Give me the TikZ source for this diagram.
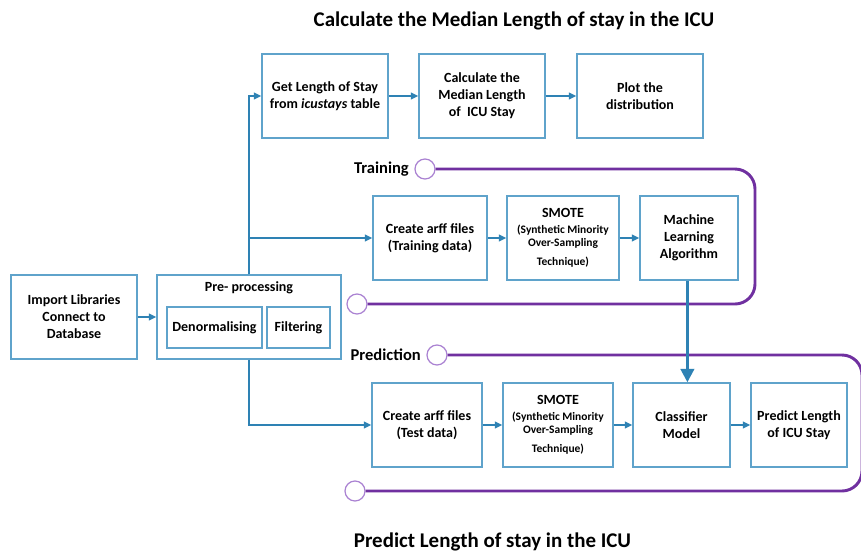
\documentclass[tikz,border=0pt]{standalone}
\usepackage{fontspec}
\setmainfont{Carlito}
\usetikzlibrary{arrows.meta}
\definecolor{boxc}{RGB}{95,163,203}
\definecolor{linec}{RGB}{46,130,180}
\definecolor{purp}{RGB}{112,48,160}
\definecolor{lpurp}{RGB}{170,130,210}
\newcommand\smallsm{\fontsize{8.6}{9.75}\selectfont}
\begin{document}
\begin{tikzpicture}[x=0.75pt,y=-0.75pt,
  box/.style={draw=boxc,line width=1.1pt,fill=white,align=center,inner sep=2pt,
    font=\bfseries\fontsize{10.5}{12.75}\selectfont},
  arr/.style={draw=linec,line width=1.1pt,-{Triangle[length=5.5pt,width=5pt]}},
  bigarr/.style={draw=linec,line width=2.2pt,-{Triangle[length=10pt,width=10pt]}},
  loopline/.style={draw=purp,line width=2.2pt,rounded corners=15pt},
  ring/.style={circle,draw=lpurp,line width=0.9pt,fill=white,minimum size=15pt,inner sep=0pt},
  lbl/.style={font=\bfseries\fontsize{12.4}{14}\selectfont,anchor=east,inner sep=0pt},
  ttl/.style={font=\bfseries\fontsize{15.7}{18}\selectfont,inner sep=0pt}]
\useasboundingbox[fill=white] (0,0) rectangle (861,553);

% titles
\node[ttl] (t1) at (514,21) {Calculate the Median Length of stay in the ICU};
\node[ttl] (t2) at (492.5,542) {Predict Length of stay in the ICU};

% purple loops
\node[ring] (tc) at (425,169) {};
\node[ring] (tb) at (357,304) {};
\node[ring] (pc) at (437,355) {};
\node[ring] (pb) at (355,491) {};
\node[lbl] (tl) at ([xshift=-4pt]tc.west) {Training};
\node[lbl] (pl) at ([xshift=-4pt]pc.west) {Prediction};
\draw[loopline] (tc.east) -- (755,169) -- (755,304) -- (tb.east);
\draw[loopline] (pc.east) -- (862,355) -- (862,491) -- (pb.east);

% boxes
\node[box,minimum width=126*0.75pt,minimum height=84*0.75pt] (gls) at (325,96) {Get Length of Stay\\from \textit{icustays} table};
\node[box,minimum width=126*0.75pt,minimum height=84*0.75pt] (med) at (482,96) {Calculate the\\Median Length\\of\ \ ICU Stay};
\node[box,minimum width=126*0.75pt,minimum height=84*0.75pt] (plot) at (640,96) {Plot the\\distribution};

\node[box,minimum width=114*0.75pt,minimum height=84*0.75pt] (ctr) at (430,238) {Create arff files\\(Training data)};
\node[box,minimum width=112*0.75pt,minimum height=84*0.75pt] (smt) at (563,238) {SMOTE\\[-1pt]\smallsm (Synthetic Minority\\[-3pt]\smallsm Over-Sampling\\[1.5pt]\smallsm Technique)};
\node[box,minimum width=98*0.75pt,minimum height=84*0.75pt] (ml) at (689,238) {Machine\\Learning\\Algorithm};

\node[box,minimum width=126*0.75pt,minimum height=84*0.75pt] (imp) at (74,317) {Import Libraries\\Connect to\\Database};
\node[box,minimum width=184*0.75pt,minimum height=84*0.75pt] (pre) at (249,317) {};
\node[font=\bfseries\fontsize{10.5}{12}\selectfont,inner sep=0pt] (pret) at (249,288) {Pre- processing};
\node[box,minimum width=95*0.75pt,minimum height=41*0.75pt] (den) at (214.5,327.5) {Denormalising};
\node[box,minimum width=63*0.75pt,minimum height=41*0.75pt] (fil) at (298.5,327.5) {Filtering};

\node[box,minimum width=110*0.75pt,minimum height=84*0.75pt] (cte) at (427,425) {Create arff files\\(Test data)};
\node[box,minimum width=110*0.75pt,minimum height=84*0.75pt] (sm2) at (558,425) {SMOTE\\[-1pt]\smallsm (Synthetic Minority\\[-3pt]\smallsm Over-Sampling\\[1.5pt]\smallsm Technique)};
\node[box,minimum width=97*0.75pt,minimum height=84*0.75pt] (cls) at (681.5,425) {Classifier\\Model};
\node[box,minimum width=96*0.75pt,minimum height=84*0.75pt] (pred) at (799,425) {Predict Length\\of ICU Stay};

% connectors
\draw[arr] (imp.east) -- (pre.west);
\draw[arr] (pre.north) |- (gls.west);
\draw[arr] (pre.north |- ctr.west) -- (ctr.west);
\draw[arr] (pre.south) |- (cte.west);
\draw[arr] (gls) -- (med);
\draw[arr] (med) -- (plot);
\draw[arr] (ctr) -- (smt);
\draw[arr] (smt) -- (ml);
\draw[arr] (cte) -- (sm2);
\draw[arr] (sm2) -- (cls);
\draw[arr] (cls) -- (pred);
\draw[bigarr] ([xshift=-1.2pt]ml.south) -- ([xshift=-1.2pt]ml.south |- cls.north);
\end{tikzpicture}
\end{document}
